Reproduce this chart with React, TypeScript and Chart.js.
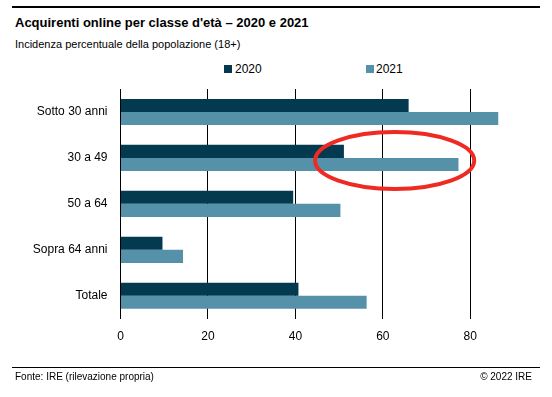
import React, { useEffect, useRef } from 'react';
import { Chart, registerables } from 'chart.js';

Chart.register(...registerables);

const categories = ['Sotto 30 anni', '30 a 49', '50 a 64', 'Sopra 64 anni', 'Totale'];
const seriesLabels = ['2020', '2021'];
const values2020 = [65.9, 51.1, 39.5, 9.6, 40.7];
const values2021 = [86.4, 77.3, 50.3, 14.3, 56.3];
const seriesColors = ['#033a50', '#5592aa'];
const xTicks = [0, 20, 40, 60, 80];
const xMax = 90;

// highlight ellipse around "30 a 49" (data units)
const highlightCategory = 1;
const highlightCenterX = 62.7;
const highlightRadiusX = 18.2;
const highlightRadiusY = 0.62; // in category steps
const highlightOffsetY = 0.055; // in category steps

const FONT = '"Liberation Sans", Arial, sans-serif';

const ellipsePlugin = {
  id: 'highlightEllipse',
  afterDatasetsDraw(chart: any) {
    const { ctx } = chart;
    const x = chart.scales.x;
    const y = chart.scales.y;
    const cx = x.getPixelForValue(highlightCenterX);
    const c0 = y.getPixelForValue(highlightCategory);
    const step = y.getPixelForValue(highlightCategory + 1) - c0;
    const cy = c0 + step * highlightOffsetY;
    const rx = x.getPixelForValue(highlightCenterX + highlightRadiusX) - cx;
    const ry = step * highlightRadiusY;
    ctx.save();
    ctx.beginPath();
    ctx.ellipse(cx, cy, rx, ry, 0, 0, Math.PI * 2);
    ctx.strokeStyle = '#ee2a22';
    ctx.lineWidth = 4;
    ctx.stroke();
    ctx.restore();
  },
};

export default function App() {
  const canvasRef = useRef<HTMLCanvasElement | null>(null);

  useEffect(() => {
    document.body.style.margin = '0';
    const canvas = canvasRef.current;
    if (!canvas) return;
    Chart.defaults.font.family = FONT;
    const chart = new Chart(canvas, {
      type: 'bar',
      data: {
        labels: categories,
        datasets: [
          {
            label: seriesLabels[0],
            data: values2020,
            backgroundColor: seriesColors[0],
            categoryPercentage: 0.57,
            barPercentage: 1,
          },
          {
            label: seriesLabels[1],
            data: values2021,
            backgroundColor: seriesColors[1],
            categoryPercentage: 0.57,
            barPercentage: 1,
          },
        ],
      },
      options: {
        indexAxis: 'y',
        animation: false,
        responsive: false,
        devicePixelRatio: 1,
        layout: { padding: { top: 89, right: 38, bottom: 48.3, left: 0 } },
        plugins: {
          legend: { display: false },
          tooltip: { enabled: false },
        },
        scales: {
          x: {
            type: 'linear',
            min: 0,
            max: xMax,
            grid: { color: '#000', lineWidth: 1, drawTicks: false },
            border: { display: false },
            ticks: { padding: 11, color: '#000', font: { size: 12, family: FONT } },
            afterBuildTicks(scale: any) {
              scale.ticks = xTicks.map((v) => ({ value: v }));
            },
            afterFit(scale: any) {
              scale.height = 30;
            },
          },
          y: {
            type: 'category',
            grid: { display: false, drawTicks: false },
            border: { display: false },
            ticks: { padding: 13, color: '#000', font: { size: 12, family: FONT } },
            afterFit(scale: any) {
              scale.width = 120.5;
            },
          },
        },
      } as any,
      plugins: [ellipsePlugin],
    });
    return () => chart.destroy();
  }, []);

  const abs = (o: React.CSSProperties): React.CSSProperties => ({
    position: 'absolute',
    whiteSpace: 'nowrap',
    fontFamily: FONT,
    color: '#000',
    ...o,
  });

  return (
    <div style={{ position: 'relative', width: 552, height: 397, background: '#fff', overflow: 'hidden' }}>
      <div style={abs({ left: 12, top: 6, width: 528, height: 0, borderTop: '2px solid #000' })} />
      <div style={abs({ left: 15, top: 14, fontSize: 13, lineHeight: '17px', fontWeight: 'bold' })}>
        Acquirenti online per classe d'età – 2020 e 2021
      </div>
      <div style={abs({ left: 15, top: 37, fontSize: 11, lineHeight: '14px' })}>
        Incidenza percentuale della popolazione (18+)
      </div>
      <div style={abs({ left: 224, top: 65, width: 8, height: 8, background: seriesColors[0] })} />
      <div style={abs({ left: 235, top: 62, fontSize: 12, lineHeight: '14px' })}>{seriesLabels[0]}</div>
      <div style={abs({ left: 366, top: 65, width: 8, height: 8, background: seriesColors[1] })} />
      <div style={abs({ left: 376, top: 62, fontSize: 12, lineHeight: '14px' })}>{seriesLabels[1]}</div>
      <canvas
        ref={canvasRef}
        width={552}
        height={397}
        style={{ position: 'absolute', left: 0, top: 0, width: 552, height: 397, display: 'block' }}
      />
      <div style={abs({ left: 12, top: 367, width: 528, height: 0, borderTop: '1px solid #000' })} />
      <div style={abs({ left: 15, top: 371, fontSize: 10, lineHeight: '12px' })}>
        Fonte: IRE (rilevazione propria)
      </div>
      <div style={abs({ right: 20, top: 371, fontSize: 10, lineHeight: '12px' })}>© 2022 IRE</div>
    </div>
  );
}
